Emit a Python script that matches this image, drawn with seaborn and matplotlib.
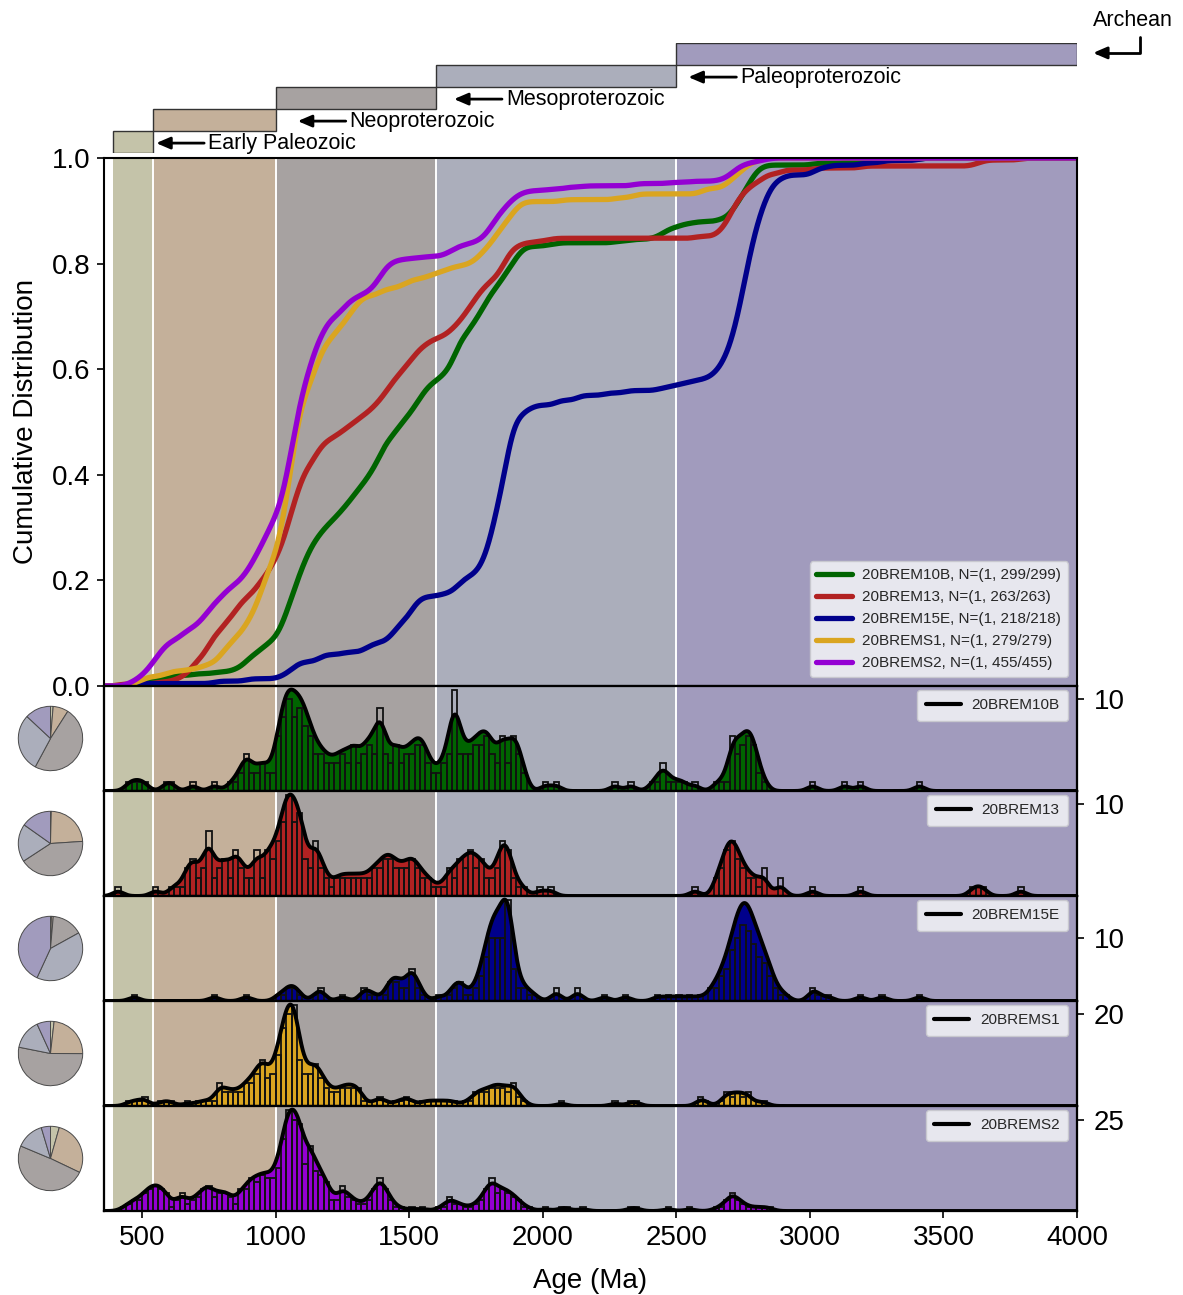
import numpy as np
import pandas as pd
import matplotlib
matplotlib.use("Agg")
import matplotlib.pyplot as plt
from matplotlib.lines import Line2D
import seaborn as sns

# ---------------- data ----------------
sample_names = ["20BREM10B", "20BREM13", "20BREM15E", "20BREMS1", "20BREMS2"]
sample_n_labels = ["N=(1, 299/299)", "N=(1, 263/263)", "N=(1, 218/218)",
                   "N=(1, 279/279)", "N=(1, 455/455)"]
sample_colors = ["#006400", "#b22222", "#00008b", "#daa520", "#9400d3"]
hist_tick_values = [10, 10, 10, 20, 25]

period_names = ["Early Paleozoic", "Neoproterozoic", "Mesoproterozoic",
                "Paleoproterozoic", "Archean"]
period_start = [390, 541, 1000, 1600, 2500]
period_end = [541, 1000, 1600, 2500, 4000]
period_colors = ["#c4c3a9", "#c4b09a", "#a7a2a1", "#abaebb", "#a19bbd"]

x_ticks = [500, 1000, 1500, 2000, 2500, 3000, 3500, 4000]
cdf_ticks = [0.0, 0.2, 0.4, 0.6, 0.8, 1.0]

BIN_WIDTH = 20  # Ma; bins listed by their lower edge

bins_10b = [440, 460, 480, 500, 580, 600, 680, 760, 820, 840, 860, 880, 900, 920, 940, 960, 980,
            1000, 1020, 1040, 1060, 1080, 1100, 1120, 1140, 1160, 1180, 1200, 1220, 1240, 1260, 1280,
            1300, 1320, 1340, 1360, 1380, 1400, 1420, 1440, 1460, 1480, 1500, 1520, 1540, 1560, 1580,
            1600, 1620, 1640, 1660, 1680, 1700, 1720, 1740, 1760, 1780, 1800, 1820, 1840, 1860, 1880, 1900, 1920,
            2000, 2040, 2260, 2320, 2400, 2420, 2440, 2460, 2480, 2500, 2520, 2560,
            2640, 2660, 2680, 2700, 2720, 2740, 2760, 2780, 2800, 2820, 3000, 3120, 3180, 3400]
counts_10b = [1, 1, 1, 1, 1, 1, 1, 1, 1, 1, 2, 4, 2, 2, 3, 2, 2,
              6, 8, 10, 8, 9, 7, 6, 4, 4, 3, 3, 3, 4, 3, 5,
              3, 4, 5, 4, 9, 4, 3, 5, 3, 4, 4, 5, 5, 3, 2,
              2, 3, 4, 11, 4, 4, 4, 5, 5, 6, 4, 3, 6, 3, 6, 4, 2,
              1, 1, 1, 1, 1, 1, 3, 1, 1, 1, 1, 1,
              1, 1, 1, 6, 4, 5, 6, 5, 2, 1, 1, 1, 1, 1]

bins_13 = [400, 540, 600, 620, 640, 660, 680, 700, 720, 740, 760, 780, 800, 820, 840, 860, 880,
           900, 920, 940, 960, 980,
           1000, 1020, 1040, 1060, 1080, 1100, 1120, 1140, 1160, 1180, 1200, 1220, 1240, 1260, 1280,
           1300, 1320, 1340, 1360, 1380, 1400, 1420, 1440, 1460, 1480, 1500, 1520, 1540, 1560, 1580,
           1600, 1620, 1640, 1660, 1680, 1700, 1720, 1740, 1760, 1780, 1800, 1820, 1840, 1860, 1880,
           1900, 1920, 1980, 2020,
           2560, 2640, 2660, 2680, 2700, 2720, 2740, 2760, 2780, 2800, 2820, 2880,
           3000, 3180, 3600, 3620, 3640, 3780]
counts_13 = [1, 1, 1, 1, 1, 3, 4, 2, 3, 7, 2, 3, 4, 2, 5, 3, 2, 2, 5, 2, 5, 4,
             6, 8, 11, 8, 9, 4, 3, 6, 3, 2, 1, 2, 2, 2, 2,
             2, 2, 2, 3, 3, 4, 4, 3, 3, 3, 4, 3, 2, 2, 1,
             1, 1, 3, 2, 4, 3, 5, 3, 4, 2, 2, 3, 6, 5, 2, 1, 1, 1, 1,
             1, 2, 3, 5, 6, 4, 3, 2, 2, 1, 3, 2, 1, 1, 1, 1, 1, 1]

bins_15e = [460, 760, 880, 1000, 1020, 1040, 1060, 1080, 1140, 1160,
            1240, 1320, 1340, 1360, 1400, 1420, 1440, 1460, 1480, 1500, 1520, 1540,
            1600, 1640, 1660, 1680, 1700, 1720, 1740, 1760, 1780, 1800, 1820, 1840, 1860, 1880,
            1900, 1920, 1940, 1960,
            2040, 2120, 2220, 2300, 2420, 2460,
            2500, 2540, 2580, 2620, 2640, 2660, 2680, 2700, 2720, 2740, 2760, 2780, 2800, 2820,
            2840, 2860, 2880, 2900,
            3000, 3020, 3060, 3180, 3260, 3400]
counts_15e = [1, 1, 1, 1, 1, 2, 2, 1, 1, 2,
              1, 2, 1, 1, 1, 3, 3, 2, 2, 5, 2, 1,
              1, 1, 2, 3, 1, 1, 2, 4, 7, 10, 10, 10, 16, 5, 2, 2, 1, 1,
              2, 2, 1, 1, 1, 1,
              1, 1, 1, 2, 2, 4, 5, 8, 10, 12, 11, 9, 7, 6, 4, 2, 1, 1,
              2, 1, 1, 1, 1, 1]

bins_s1 = [440, 460, 480, 500, 560, 580, 600, 660, 700, 720, 740, 760, 780, 800, 820, 840, 860, 880,
           900, 920, 940, 960, 980,
           1000, 1020, 1040, 1060, 1080, 1100, 1120, 1140, 1160, 1180, 1200, 1220, 1240, 1260, 1280,
           1300, 1320, 1360, 1380, 1400, 1440, 1460, 1480, 1500, 1540, 1560, 1580,
           1600, 1620, 1640, 1660, 1700, 1720, 1740, 1760, 1780, 1800, 1820, 1840, 1860, 1880, 1900, 1920,
           2060, 2260, 2320, 2340,
           2580, 2600, 2660, 2680, 2700, 2720, 2740, 2760, 2800, 2820]
counts_s1 = [1, 1, 1, 2, 1, 1, 1, 1, 1, 1, 1, 1, 5, 3, 3, 3, 3, 5, 5, 7, 10, 6, 7,
             11, 17, 20, 22, 10, 7, 7, 9, 6, 4, 3, 3, 4, 4, 4,
             4, 1, 1, 2, 1, 1, 1, 2, 1, 1, 1, 1,
             1, 1, 1, 1, 1, 1, 3, 3, 3, 4, 4, 4, 3, 5, 2, 1,
             1, 1, 1, 1,
             2, 1, 1, 3, 2, 3, 2, 3, 1, 1]

bins_s2 = [420, 440, 460, 480, 500, 520, 540, 560, 580, 600, 620, 640, 660, 680,
           700, 720, 740, 760, 780, 800, 820, 840, 860, 880, 900, 920, 940, 960, 980,
           1000, 1020, 1040, 1060, 1080, 1100, 1120, 1140, 1160, 1180, 1200, 1220, 1240, 1260, 1280,
           1300, 1320, 1340, 1360, 1380, 1400, 1420, 1440, 1460, 1500, 1540,
           1600, 1620, 1640, 1660, 1680, 1700, 1720, 1740, 1760, 1780, 1800, 1820, 1840, 1860, 1880,
           1900, 1920, 1940,
           2000, 2060, 2080, 2140, 2320, 2340, 2460,
           2540, 2640, 2660, 2680, 2700, 2720, 2740, 2760, 2780, 2800, 2820, 2840]
counts_s2 = [1, 2, 3, 3, 5, 6, 7, 6, 5, 1, 3, 5, 2, 3,
             4, 6, 7, 4, 5, 5, 4, 2, 6, 6, 9, 8, 10, 9, 9,
             12, 20, 28, 25, 24, 13, 18, 11, 10, 8, 3, 3, 7, 4, 3,
             2, 2, 3, 6, 9, 6, 3, 1, 1, 1, 1,
             1, 1, 4, 2, 2, 1, 1, 2, 3, 6, 9, 5, 6, 5, 4, 3, 1, 1,
             1, 1, 1, 1, 1, 1, 1,
             1, 1, 1, 3, 5, 3, 2, 1, 1, 1, 1, 1]

sample_bins = [bins_10b, bins_13, bins_15e, bins_s1, bins_s2]
sample_counts = [counts_10b, counts_13, counts_15e, counts_s1, counts_s2]

# ---------------- style / layout ----------------
sns.set_theme(style="ticks")
plt.rcParams['font.family'] = ['Liberation Sans', 'DejaVu Sans']

XMIN, XMAX = 357, 4000
BW_MA = 21.0

W, H = 1183, 1295
fig = plt.figure(figsize=(W / 100, H / 100), dpi=100)


def rect(l, t, r, b):
    return [l / W, 1 - b / H, (r - l) / W, (b - t) / H]


AX_L, AX_R = 104, 1077
MA_PER_PX = (XMAX - XMIN) / (AX_R - AX_L)
MAIN_T, MAIN_B = 158, 686
PANEL_H = 105
LEG_FACE, LEG_EDGE = "#ececf1", "#c9c9cf"


def draw_bands(ax):
    for s, e, c in zip(period_start, period_end, period_colors):
        ax.axvspan(s, e, color=c, lw=0, zorder=0)
    for s in period_start[1:]:
        ax.axvline(s, color="white", lw=1.4, zorder=0.5)


def style_spines(ax):
    for sp in ax.spines.values():
        sp.set_color("black")
        sp.set_linewidth(1.5)


ax_main = fig.add_axes(rect(AX_L, MAIN_T, AX_R, MAIN_B))
draw_bands(ax_main)
style_spines(ax_main)

for i, (name, nlab, col, bins, counts, tick) in enumerate(
        zip(sample_names, sample_n_labels, sample_colors, sample_bins, sample_counts, hist_tick_values)):
    assert len(bins) == len(counts), name
    centers = np.asarray(bins, float) + BIN_WIDTH / 2
    w = np.asarray(counts, float)
    df = pd.DataFrame({"age": centers, "n": w})
    std = float(np.sqrt(np.cov(centers, aweights=w)))
    kde_kws = dict(data=df, x="age", weights="n", bw_method=BW_MA / std,
                   gridsize=4000, cut=400, clip=(XMIN, XMAX))

    top = MAIN_B + i * PANEL_H
    ax = fig.add_axes(rect(AX_L, top, AX_R, top + PANEL_H), sharex=ax_main)
    draw_bands(ax)
    sns.kdeplot(ax=ax, fill=True, color=col, alpha=1, linewidth=0, **kde_kws)

    axh = ax.twinx()
    sns.histplot(data=df, x="age", weights="n", binwidth=BIN_WIDTH, binrange=(380, XMAX),
                 ax=axh, fill=False, color="#111111", linewidth=1.3, element="bars")

    axl = ax.twinx()
    sns.kdeplot(ax=axl, color="black", linewidth=2.8, **kde_kws)
    line = axl.lines[-1]
    xs = np.asarray(line.get_xdata())
    ys = np.asarray(line.get_ydata())
    peak = ys.max()
    ax.set_ylim(0, peak * 1.035)
    axl.set_ylim(0, peak * 1.035)
    axh.set_ylim(0, w.max() * 1.035)

    for a in (ax, axh, axl):
        a.set_xlabel("")
        a.set_ylabel("")
        style_spines(a)
    ax.tick_params(axis="y", left=False, labelleft=False)
    axl.set_yticks([])
    axh.set_yticks([tick])
    axh.set_yticklabels([str(tick)])
    axh.tick_params(axis="y", right=True, left=False, labelsize=20, length=5,
                    width=1.2, pad=7, colors="black")

    if i < 4:
        ax.tick_params(axis="x", bottom=False, labelbottom=False)
    else:
        ax.set_xticks(x_ticks)
        ax.tick_params(axis="x", bottom=True, labelsize=20, length=5, width=1.2,
                       pad=5, colors="black")
        ax.set_xlabel("Age (Ma)", fontsize=20, labelpad=12, color="black")

    axl.legend(handles=[Line2D([], [], color="black", lw=3)], labels=[name],
               loc="upper right", bbox_to_anchor=(1 - 9 / 973, 1 - 4 / PANEL_H),
               borderaxespad=0, fontsize=11, frameon=True, fancybox=True,
               facecolor=LEG_FACE, edgecolor=LEG_EDGE, framealpha=0.95,
               handlelength=2.3, handletextpad=0.7, borderpad=0.55)

    # cumulative distribution from the same KDE
    cum = np.concatenate([[0.0], np.cumsum(0.5 * (ys[1:] + ys[:-1]) * np.diff(xs))])
    cum = cum / cum[-1]
    sns.lineplot(x=xs, y=cum, ax=ax_main, color=col, linewidth=3.8,
                 label=f"{name}, {nlab}", estimator=None, sort=False)

    # pie of age fractions per period
    cy = top + PANEL_H / 2
    pax = fig.add_axes(rect(50.5 - 35, cy - 35, 50.5 + 35, cy + 35))
    fracs = [w[(centers >= s) & (centers < e)].sum() for s, e in zip(period_start, period_end)]
    pax.pie(fracs, colors=period_colors, startangle=90, counterclock=False, radius=0.92,
            wedgeprops=dict(edgecolor="#4a4a4a", linewidth=0.7))
    pax.set_aspect("equal")
    pax.set_xlim(-1, 1)
    pax.set_ylim(-1, 1)

# main axis formatting
ax_main.set_xlim(XMIN, XMAX)
ax_main.set_ylim(0, 1)
ax_main.set_yticks(cdf_ticks)
ax_main.set_yticklabels([f"{t:.1f}" for t in cdf_ticks])
ax_main.tick_params(axis="y", labelsize=20, length=5, width=1.2, pad=5, colors="black")
ax_main.tick_params(axis="x", bottom=False, labelbottom=False)
ax_main.set_xlabel("")
ax_main.set_ylabel("Cumulative Distribution", fontsize=20, labelpad=9, color="black")
h, l = ax_main.get_legend_handles_labels()
ax_main.legend(h, l, loc="lower right", bbox_to_anchor=(1 - 9 / 973, 9 / 528),
               borderaxespad=0, fontsize=11, frameon=True, fancybox=True,
               facecolor=LEG_FACE, edgecolor=LEG_EDGE, framealpha=0.95,
               handlelength=2.35, handletextpad=0.65, borderpad=0.45, labelspacing=0.52)

# geologic timescale boxes above
ax_ts = fig.add_axes(rect(AX_L, 43, AX_R, 153), sharex=ax_main)
levels = list(range(len(period_names)))
ax_ts.barh(y=levels, width=np.array(period_end) - np.array(period_start), left=period_start,
           height=1, align="edge", color=period_colors, edgecolor="#333333", linewidth=1)
ax_ts.set_ylim(0, 5)
ax_ts.axis("off")

tip_offsets_px = [3, 22, 18, 12]
for lvl, (name, end, off) in enumerate(zip(period_names[:4], period_end[:4], tip_offsets_px)):
    y = lvl + 0.45
    tip = end + off * MA_PER_PX
    ax_ts.annotate("", xy=(tip, y), xytext=(tip + 48 * MA_PER_PX, y),
                   arrowprops=dict(arrowstyle="-|>,head_length=0.7,head_width=0.3",
                                   lw=2, color="black", shrinkA=0, shrinkB=0),
                   annotation_clip=False)
    ax_ts.text(tip + 52 * MA_PER_PX, y, name, va="center", ha="left", fontsize=15.5,
               color="black", clip_on=False)

# Archean label with elbow arrow
arch_x = XMIN + (1133 - AX_L) * MA_PER_PX
ax_ts.text(arch_x, (153 - 20) / 22, period_names[4], ha="center", va="center",
           fontsize=15.5, color="black", clip_on=False)
ax_ts.annotate("", xy=(XMIN + (1093 - AX_L) * MA_PER_PX, 4.55),
               xytext=(XMIN + (1140 - AX_L) * MA_PER_PX, (153 - 37) / 22),
               arrowprops=dict(arrowstyle="-|>,head_length=0.7,head_width=0.3", lw=2,
                               color="black", shrinkA=0, shrinkB=0,
                               connectionstyle="angle,angleA=90,angleB=0,rad=0"),
               annotation_clip=False)

ax_main.set_xlim(XMIN, XMAX)
fig.savefig("out.png", dpi=100)
